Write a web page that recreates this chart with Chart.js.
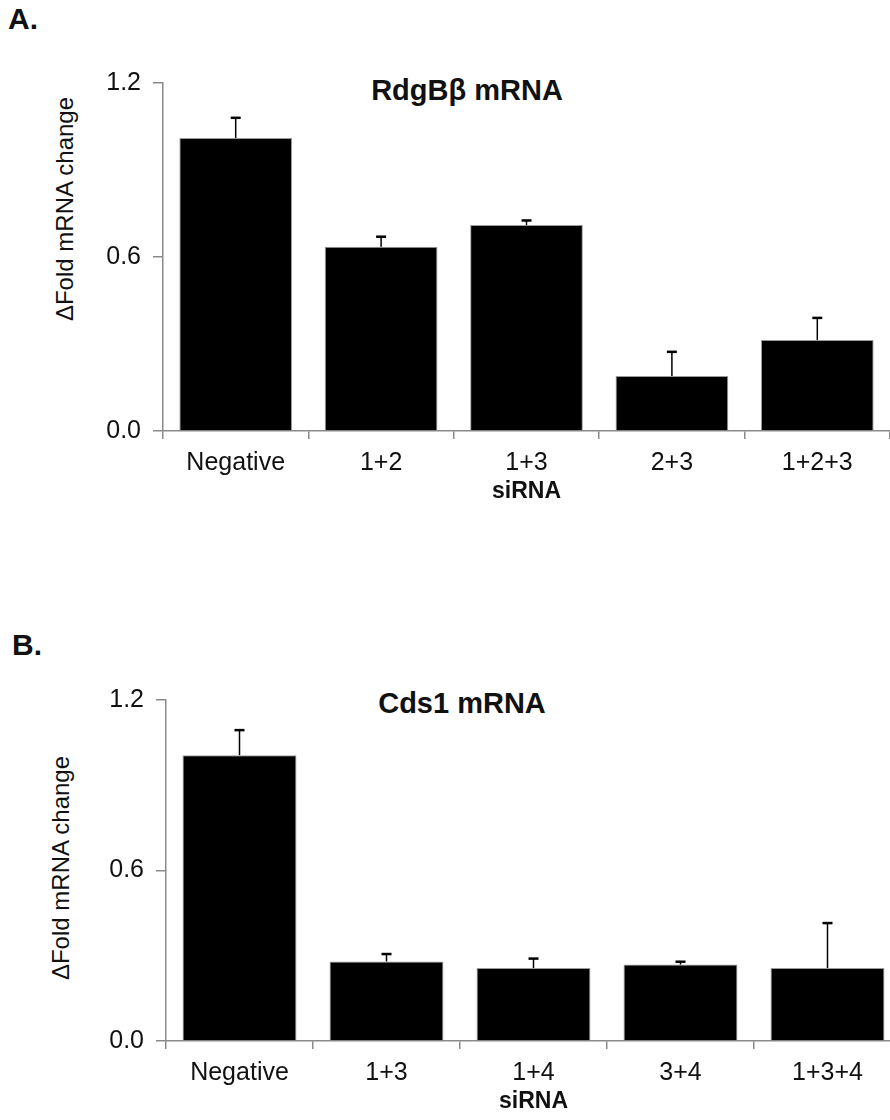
<!DOCTYPE html>
<html>
<head>
<meta charset="utf-8">
<script src="https://cdn.jsdelivr.net/npm/chart.js@4.4.1/dist/chart.umd.min.js"></script>
<style>
  body { margin: 0; width: 890px; height: 1120px; overflow: hidden; background: #fff; position: relative;
         font-family: "Liberation Sans", Arial, sans-serif; color: #111; }
  .panel { position: absolute; font-weight: bold; font-size: 30px; line-height: 30px; }
  .title { position: absolute; font-weight: bold; font-size: 29px; line-height: 29px; transform: translateX(-50%); white-space: nowrap; }
  .ytitle { position: absolute; font-size: 24px; line-height: 24px; white-space: nowrap;
            transform: translate(-50%, -50%) rotate(-90deg); }
  canvas { position: absolute; left: 0; }
</style>
</head>
<body>
<div class="panel" style="left:8px;top:4px">A.</div>
<div class="title" style="left:467px;top:76px">RdgBβ mRNA</div>
<div class="ytitle" style="left:65px;top:209px">ΔFold mRNA change</div>
<canvas id="chartA" width="890" height="505" style="top:0"></canvas>

<div class="panel" style="left:12px;top:630px">B.</div>
<div class="title" style="left:462px;top:689px">Cds1 mRNA</div>
<div class="ytitle" style="left:61px;top:868px">ΔFold mRNA change</div>
<canvas id="chartB" width="901" height="498" style="top:617px"></canvas>

<script>
// panel A: RdgBbeta knockdown
const labelsA = ['Negative', '1+2', '1+3', '2+3', '1+2+3'];
const meansA = [1.01, 0.635, 0.71, 0.19, 0.314];
const errA = [0.07, 0.035, 0.016, 0.083, 0.076];

// panel B: Cds1 knockdown
const labelsB = ['Negative', '1+3', '1+4', '3+4', '1+3+4'];
const meansB = [1.006, 0.28, 0.257, 0.269, 0.257];
const errB = [0.088, 0.026, 0.033, 0.01, 0.158];

const yTicks = [0, 0.6, 1.2];
const axisGrey = '#8a8a8a';

// draws the upper error bar (line + cap) above each bar
const errorBars = {
  id: 'errorBars',
  afterDatasetsDraw(chart) {
    const ctx = chart.ctx;
    const ds = chart.data.datasets[0];
    const meta = chart.getDatasetMeta(0);
    const y = chart.scales.y;
    ctx.save();
    ctx.strokeStyle = '#000';
    meta.data.forEach((bar, i) => {
      const y0 = y.getPixelForValue(ds.data[i]);
      const y1 = y.getPixelForValue(ds.data[i] + ds.errors[i]);
      ctx.lineWidth = 1.5;
      ctx.beginPath();
      ctx.moveTo(bar.x, y0);
      ctx.lineTo(bar.x, y1);
      ctx.stroke();
      ctx.lineWidth = 2.5;
      ctx.beginPath();
      ctx.moveTo(bar.x - 5, y1);
      ctx.lineTo(bar.x + 5, y1);
      ctx.stroke();
    });
    ctx.restore();
  }
};

function makeChart(id, labels, means, errs, yWidth, padTop) {
  const ctx = document.getElementById(id).getContext('2d');
  return new Chart(ctx, {
    type: 'bar',
    data: {
      labels: labels,
      datasets: [{
        data: means,
        errors: errs,
        backgroundColor: '#000',
        borderColor: '#9a9a9a',
        borderWidth: 1,
        categoryPercentage: 1,
        barPercentage: 0.775
      }]
    },
    options: {
      responsive: false,
      animation: false,
      devicePixelRatio: 1,
      layout: { padding: { top: padTop, left: 0, right: 0, bottom: 0 } },
      plugins: { legend: { display: false }, tooltip: { enabled: false } },
      scales: {
        x: {
          afterFit: s => { s.height = 74; },
          grid: { offset: true, drawOnChartArea: false, tickLength: 8, color: axisGrey, lineWidth: 1.5 },
          border: { color: axisGrey, width: 1.5 },
          ticks: { font: { family: 'Liberation Sans', size: 25 }, color: '#111', padding: 9 },
          title: { display: true, text: 'siRNA', font: { family: 'Liberation Sans', size: 23, weight: 'bold' },
                   color: '#111', padding: { top: 0, bottom: 0 } }
        },
        y: {
          min: 0, max: 1.2,
          afterBuildTicks: s => { s.ticks = yTicks.map(v => ({ value: v })); },
          afterFit: s => { s.width = yWidth; },
          grid: { drawOnChartArea: false, tickLength: 10, color: axisGrey, lineWidth: 1.5 },
          border: { color: axisGrey, width: 1.5 },
          ticks: { font: { family: 'Liberation Sans', size: 25 }, color: '#111', padding: 12,
                   callback: v => v.toFixed(1) }
        }
      }
    },
    plugins: [errorBars]
  });
}

const chartA = makeChart('chartA', labelsA, meansA, errA, 163, 83);
const chartB = makeChart('chartB', labelsB, meansB, errB, 166, 83);
</script>
</body>
</html>
